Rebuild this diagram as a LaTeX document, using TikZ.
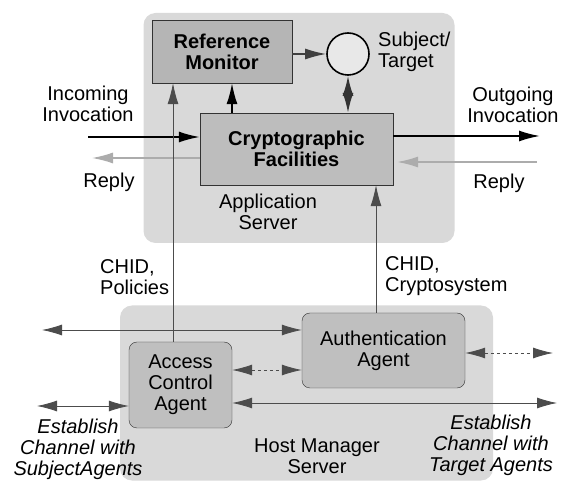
\documentclass[tikz,border=0pt]{standalone}
\usepackage{fontspec}
\setmainfont{Liberation Sans}
\usepackage{tikz}
\usetikzlibrary{arrows.meta}

\tikzset{
    % the two big servers are light grey boxes with no border
    serverbox/.style={rectangle, rounded corners=12pt, fill=gray!30, inner sep=0pt},
    % the boxes inside the servers
    monbox/.style={rectangle, draw=black!80, fill=gray!58, inner sep=0pt,
        font=\fontsize{20}{21}\selectfont\bfseries, align=center},
    agentbox/.style={rectangle, rounded corners=8pt, draw=black!80, fill=gray!50, inner sep=0pt, align=center},
    lbl/.style={inner sep=0pt, align=center},
    arrowtip/.style={-{Latex[length=21pt,width=11pt]}},
    twoarrowtip/.style={{Latex[length=20pt,width=11pt]}-{Latex[length=20pt,width=11pt]}},
    thin line/.style={draw=black!70, line width=0.8pt},
}

\begin{document}
\begin{tikzpicture}[x=1pt, y=-1pt, font=\fontsize{20}{21}\selectfont]
    \useasboundingbox (0,0) rectangle (563,481);

    % the two servers go first so that everything else sits on top of them
    \node[serverbox, minimum width=311pt, minimum height=230pt] (appsrv) at (299,128) {};
    \node[serverbox, minimum width=373pt, minimum height=175pt] (hostsrv) at (306.5,393) {};

    % boxes of the application server
    \node[monbox, minimum width=140pt, minimum height=63pt] (refmon) at (222,51.5) {Reference\\Monitor};
    \node[monbox, minimum width=193pt, minimum height=72pt, fill=gray!52] (crypto) at (296.5,149) {Cryptographic\\Facilities};
    \node[circle, draw=black, line width=1.6pt, fill=gray!18, minimum size=42pt, inner sep=0pt] (subj) at (348,54) {};

    % boxes of the host manager server
    \node[agentbox, minimum width=103pt, minimum height=86pt] (aca) at (180.5,385) {Access\\Control\\Agent};
    \node[agentbox, minimum width=163pt, minimum height=75pt] (auth) at (383.5,350.5) {Authentication\\Agent};

    % the texts that are not inside a box
    \node[lbl, anchor=west, align=left] (subjlbl) at (378,52) {Subject/\\Target};
    \node[lbl] (inlbl) at (88,104) {Incoming\\Invocation};
    \node[lbl] (replyl) at (109,182) {Reply};
    \node[lbl] (outlbl) at (513,105) {Outgoing\\Invocation};
    \node[lbl] (replyr) at (499,183) {Reply};
    \node[lbl] (applbl) at (268,212) {Application\\Server};
    \node[lbl, anchor=west, align=left] (pollbl) at (100,277) {CHID,\\Policies};
    \node[lbl, anchor=west, align=left] (cryplbl) at (385,276) {CHID,\\Cryptosystem};
    \node[lbl] (hostlbl) at (317,456) {Host Manager\\Server};
    \node[lbl, font=\fontsize{20}{21}\selectfont\itshape] (estl) at (78,449) {Establish\\Channel with\\SubjectAgents};
    \node[lbl, font=\fontsize{20}{21}\selectfont\itshape] (estr) at (491,445) {Establish\\Channel with\\Target Agents};

    % free ends of the connectors
    \coordinate (inc) at (88,137);
    \coordinate (repl) at (92,158);
    \coordinate (outg) at (540,136);
    \coordinate (repr) at (537,162);
    \coordinate (lt) at (42,330);
    \coordinate (mid) at (267,370);
    \coordinate (rb) at (557,403);
    \coordinate (lb) at (37,406);
    \coordinate (ra) at (553,353);

    % invocations and replies
    \draw[arrowtip, line width=1.8pt] (inc) -- (inc -| crypto.west);
    \draw[arrowtip, line width=1.8pt] (outg -| crypto.east) -- (outg);
    \draw[arrowtip, draw=gray!65, line width=1.4pt] (repl -| crypto.west) -- (repl);
    \draw[arrowtip, draw=gray!65, line width=1.4pt] (repr) -- ([xshift=4pt]repr -| crypto.east);

    % inside the application server
    \draw[arrowtip, draw=gray!50!black, line width=1.6pt] (refmon.east |- subj) -- (subj.west);
    \draw[twoarrowtip, line width=1.8pt, draw=black!80] (subj.south) -- (subj.south |- crypto.north);
    \draw[arrowtip, line width=1.6pt] ([xshift=10pt]refmon.south |- crypto.north) -- ([xshift=10pt]refmon.south);

    % from the agents up to the application server
    \draw[arrowtip, thin line] ([xshift=-7.5pt]aca.north) -- ([xshift=-7.5pt]aca.north |- refmon.south);
    \draw[arrowtip, thin line] ([xshift=-7.5pt]auth.north) -- ([xshift=-7.5pt]auth.north |- crypto.south);

    % the channels of the host manager server
    \draw[twoarrowtip, thin line] (lt) -- (lt -| auth.west);
    \draw[twoarrowtip, thin line, dashed] (mid -| aca.east) -- (mid -| auth.west);
    \draw[twoarrowtip, thin line] (rb -| aca.east) -- (rb);
    \draw[twoarrowtip, thin line] (lb) -- (lb -| aca.west);
    \draw[twoarrowtip, thin line, dashed] (ra -| auth.east) -- (ra);
\end{tikzpicture}
\end{document}
